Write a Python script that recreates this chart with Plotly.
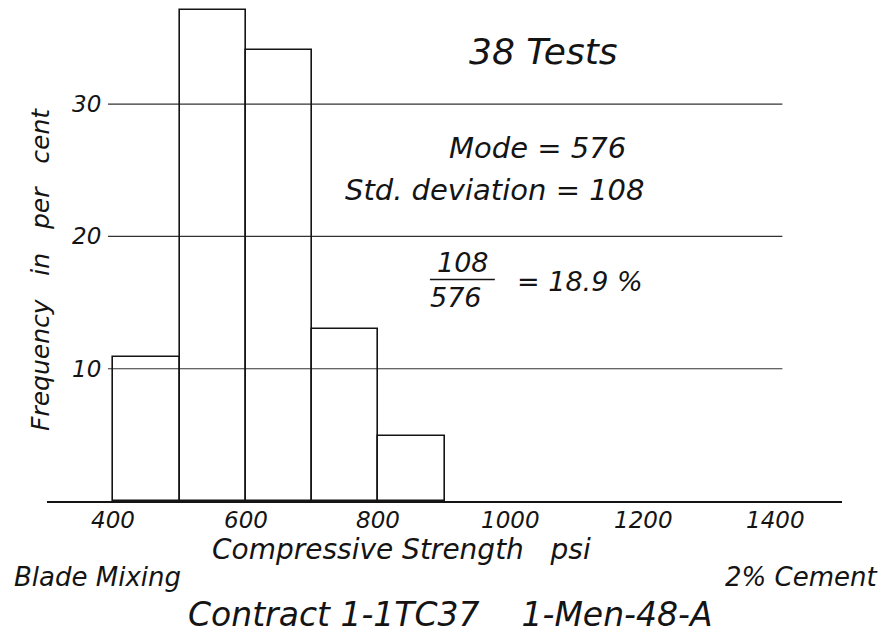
import plotly.graph_objects as go

# Data
bin_left = [400, 500, 600, 700, 800]
bin_width = 100
freq_pct = [10.9, 37.1, 34.1, 13.0, 4.9]

x_tick_vals = [400, 600, 800, 1000, 1200, 1400]
x_tick_text = ["400", "600", "800", "1000", "1200", "1400"]
y_grid_vals = [10, 20, 30]
y_grid_text = ["10", "20", "30"]

FONT = "DejaVu Sans"
INK = "#141414"

# figure geometry (page has an 8px body margin)
W, H = 887, 635
L, R, T, B = 39, 53, 0, 142
PW, PH = W - L - R, H - T - B
OFF = 8


def px(xpage):
    return (xpage - OFF - L) / PW


def py(ypage):
    return (H - B + OFF - ypage) / PH


bin_centers = [b + bin_width / 2 for b in bin_left]

fig = go.Figure()
fig.add_trace(go.Bar(
    x=bin_centers, y=freq_pct, width=bin_width,
    marker=dict(color="rgba(0,0,0,0)", line=dict(color=INK, width=1.6)),
    hoverinfo="skip", showlegend=False,
))

shapes = []
annotations = []
for v, t in zip(y_grid_vals, y_grid_text):
    shapes.append(dict(type="line", xref="x", yref="y", x0=392, x1=1410, y0=v, y1=v,
                       line=dict(color="#333", width=1.2), layer="below"))
    annotations.append(dict(x=392, y=v, xref="x", yref="y", text="<i>" + t + "</i>",
                            showarrow=False, xanchor="right", yanchor="middle", xshift=-5,
                            font=dict(family=FONT, size=23, color=INK)))

# x tick labels (hand-lettered look, italic)
for v, t in zip(x_tick_vals, x_tick_text):
    annotations.append(dict(x=v, y=py(520), xref="x", yref="paper", text="<i>" + t + "</i>",
                            showarrow=False, xanchor="center", yanchor="middle",
                            font=dict(family=FONT, size=23, color=INK)))

# fraction bar
shapes.append(dict(type="line", xref="x", yref="y", x0=878, x1=976, y0=16.75, y1=16.75,
                   line=dict(color=INK, width=1.6)))


def txt(x, y, s, size, xref="x", yref="y", angle=0):
    annotations.append(dict(x=x, y=y, xref=xref, yref=yref, text="<i>" + s + "</i>",
                            showarrow=False, xanchor="center", yanchor="middle",
                            textangle=angle,
                            font=dict(family=FONT, size=size, color=INK)))


txt(1050, 34.0, "38 Tests", 36)
txt(1040, 26.7, "Mode = 576", 29)
txt(976, 23.5, "Std. deviation = 108", 29)
txt(928, 18.0, "108", 27)
txt(917, 15.4, "576", 27)
txt(1105, 16.6, "= 18.9 %", 27)

txt(px(401), py(549), "Compressive Strength&nbsp;&nbsp; psi", 28, xref="paper", yref="paper")
txt(px(97), py(577), "Blade Mixing", 26, xref="paper", yref="paper")
txt(px(801), py(577), "2% Cement", 26, xref="paper", yref="paper")
txt(px(450), py(614), "Contract 1-1TC37&nbsp;&nbsp;&nbsp; 1-Men-48-A", 33, xref="paper", yref="paper")
txt(px(40), py(270), "Frequency&nbsp;&nbsp; in&nbsp;&nbsp; per&nbsp;&nbsp; cent", 25,
    xref="paper", yref="paper", angle=-90)

fig.update_layout(
    width=W, height=H,
    margin=dict(l=L, r=R, t=T, b=B, autoexpand=False),
    paper_bgcolor="white", plot_bgcolor="white",
    shapes=shapes, annotations=annotations,
    xaxis=dict(range=[300, 1500], showticklabels=False,
               showgrid=False, zeroline=False, showline=True, linecolor=INK, linewidth=1.8,
               ticks=""),
    yaxis=dict(range=[0, PH / 13.227], showgrid=False, zeroline=False, showline=False,
               showticklabels=False, ticks=""),
    bargap=0,
)

fig.write_html("out.html")
